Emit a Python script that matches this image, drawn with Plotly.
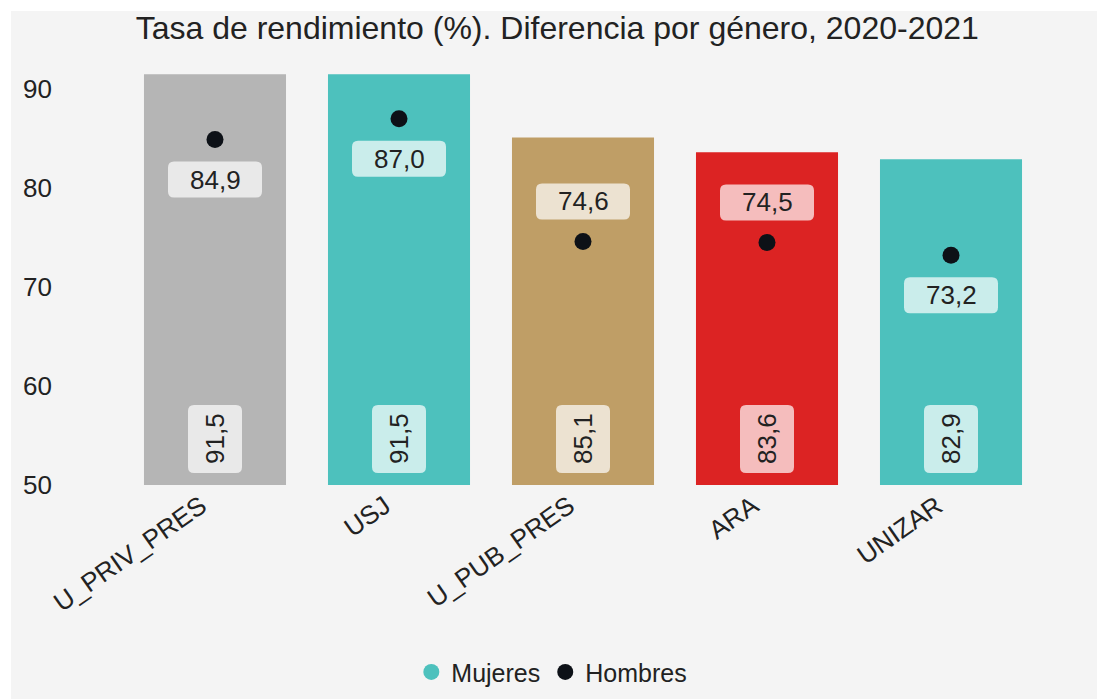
import plotly.graph_objects as go

categories = ["U_PRIV_PRES", "USJ", "U_PUB_PRES", "ARA", "UNIZAR"]
mujeres = [91.5, 91.5, 85.1, 83.6, 82.9]
hombres = [84.9, 87.0, 74.6, 74.5, 73.2]
bar_colors = ["#b5b5b5", "#4dc1bd", "#bf9e66", "#dc2323", "#4dc1bd"]
hombres_label_side = ["below", "below", "above", "above", "below"]
y_ticks = [50, 60, 70, 80, 90]

BASE = 50
BG = "#f4f4f4"
TXT = "#222222"
FONT = "Liberation Sans, Arial, sans-serif"


def fmt(v):
    return f"{v:.1f}".replace(".", ",")


def rounded_rect(x0, x1, y0, y1, r=6):
    return (f"M {x0+r},{y0} L {x1-r},{y0} Q {x1},{y0} {x1},{y0+r} "
            f"L {x1},{y1-r} Q {x1},{y1} {x1-r},{y1} L {x0+r},{y1} "
            f"Q {x0},{y1} {x0},{y1-r} L {x0},{y0+r} Q {x0},{y0} {x0+r},{y0} Z")


fig = go.Figure()
fig.add_trace(go.Bar(
    x=categories, y=mujeres, name="Mujeres",
    marker=dict(color=bar_colors, line=dict(width=0)),
    showlegend=False, hoverinfo="x+y",
))
fig.add_trace(go.Scatter(
    x=categories, y=hombres, name="Hombres", mode="markers",
    marker=dict(color="#0d1117", size=17),
    showlegend=False,
))
# legend entries
fig.add_trace(go.Scatter(x=[None], y=[None], mode="markers", name="Mujeres",
                         marker=dict(color="#4dc1bd", size=18, symbol="circle")))
fig.add_trace(go.Scatter(x=[None], y=[None], mode="markers", name="Hombres",
                         marker=dict(color="#0d1117", size=18, symbol="circle")))

shapes = []
annotations = []
box_fill = "rgba(255,255,255,0.7)"
for cat, m, h, side in zip(categories, mujeres, hombres, hombres_label_side):
    # bar value label (rotated, at base of bar)
    shapes.append(dict(
        type="path", xref="x", yref="y", xsizemode="pixel", ysizemode="pixel",
        xanchor=cat, yanchor=BASE, path=rounded_rect(-27, 27, 12, 80),
        fillcolor=box_fill, line=dict(width=0), layer="above",
    ))
    annotations.append(dict(
        x=cat, y=BASE, xref="x", yref="y", text=fmt(m), showarrow=False,
        textangle=-90, xanchor="center", yanchor="middle", yshift=46,
        font=dict(size=26, color=TXT, family=FONT),
    ))
    # hombres label
    if side == "below":
        y0, y1, ys = -58, -22, -40
    else:
        y0, y1, ys = 22, 58, 40
    shapes.append(dict(
        type="path", xref="x", yref="y", xsizemode="pixel", ysizemode="pixel",
        xanchor=cat, yanchor=h, path=rounded_rect(-47, 47, y0, y1),
        fillcolor=box_fill, line=dict(width=0), layer="above",
    ))
    annotations.append(dict(
        x=cat, y=h, xref="x", yref="y", text=fmt(h), showarrow=False,
        xanchor="center", yanchor="middle", yshift=ys,
        font=dict(size=26, color=TXT, family=FONT),
    ))

fig.update_layout(
    width=1086, height=688,
    margin=dict(l=112, r=54, t=49, b=214),
    paper_bgcolor=BG, plot_bgcolor=BG,
    font=dict(family=FONT, color=TXT, size=26),
    title=dict(text="Tasa de rendimiento (%). Diferencia por género, 2020-2021",
               x=0.503, xref="container", xanchor="center",
               y=0.976, yref="container", yanchor="middle",
               font=dict(size=32, color=TXT, family=FONT)),
    bargap=0.228,
    shapes=shapes,
    annotations=annotations,
    legend=dict(orientation="h", x=0.498, xref="container", xanchor="center",
                y=0.039, yref="container", yanchor="middle",
                font=dict(size=25, color=TXT, family=FONT),
                bgcolor="rgba(0,0,0,0)", itemwidth=30, tracegroupgap=0),
    xaxis=dict(showgrid=False, showline=False, zeroline=False, tickangle=-35,
               ticklabelshift=-14, tickfont=dict(size=26, color=TXT)),
    yaxis=dict(range=[50, 92.93], tickvals=y_ticks, showgrid=False, showline=False,
               zeroline=False, ticklabelstandoff=70,
               tickfont=dict(size=26, color=TXT)),
)

fig.write_html(
    "out.html",
    post_script=(
        "document.documentElement.style.overflow='hidden';"
        "document.body.style.overflow='hidden';"
        "document.body.style.margin='11px 0 0 11px';"
    ),
)
